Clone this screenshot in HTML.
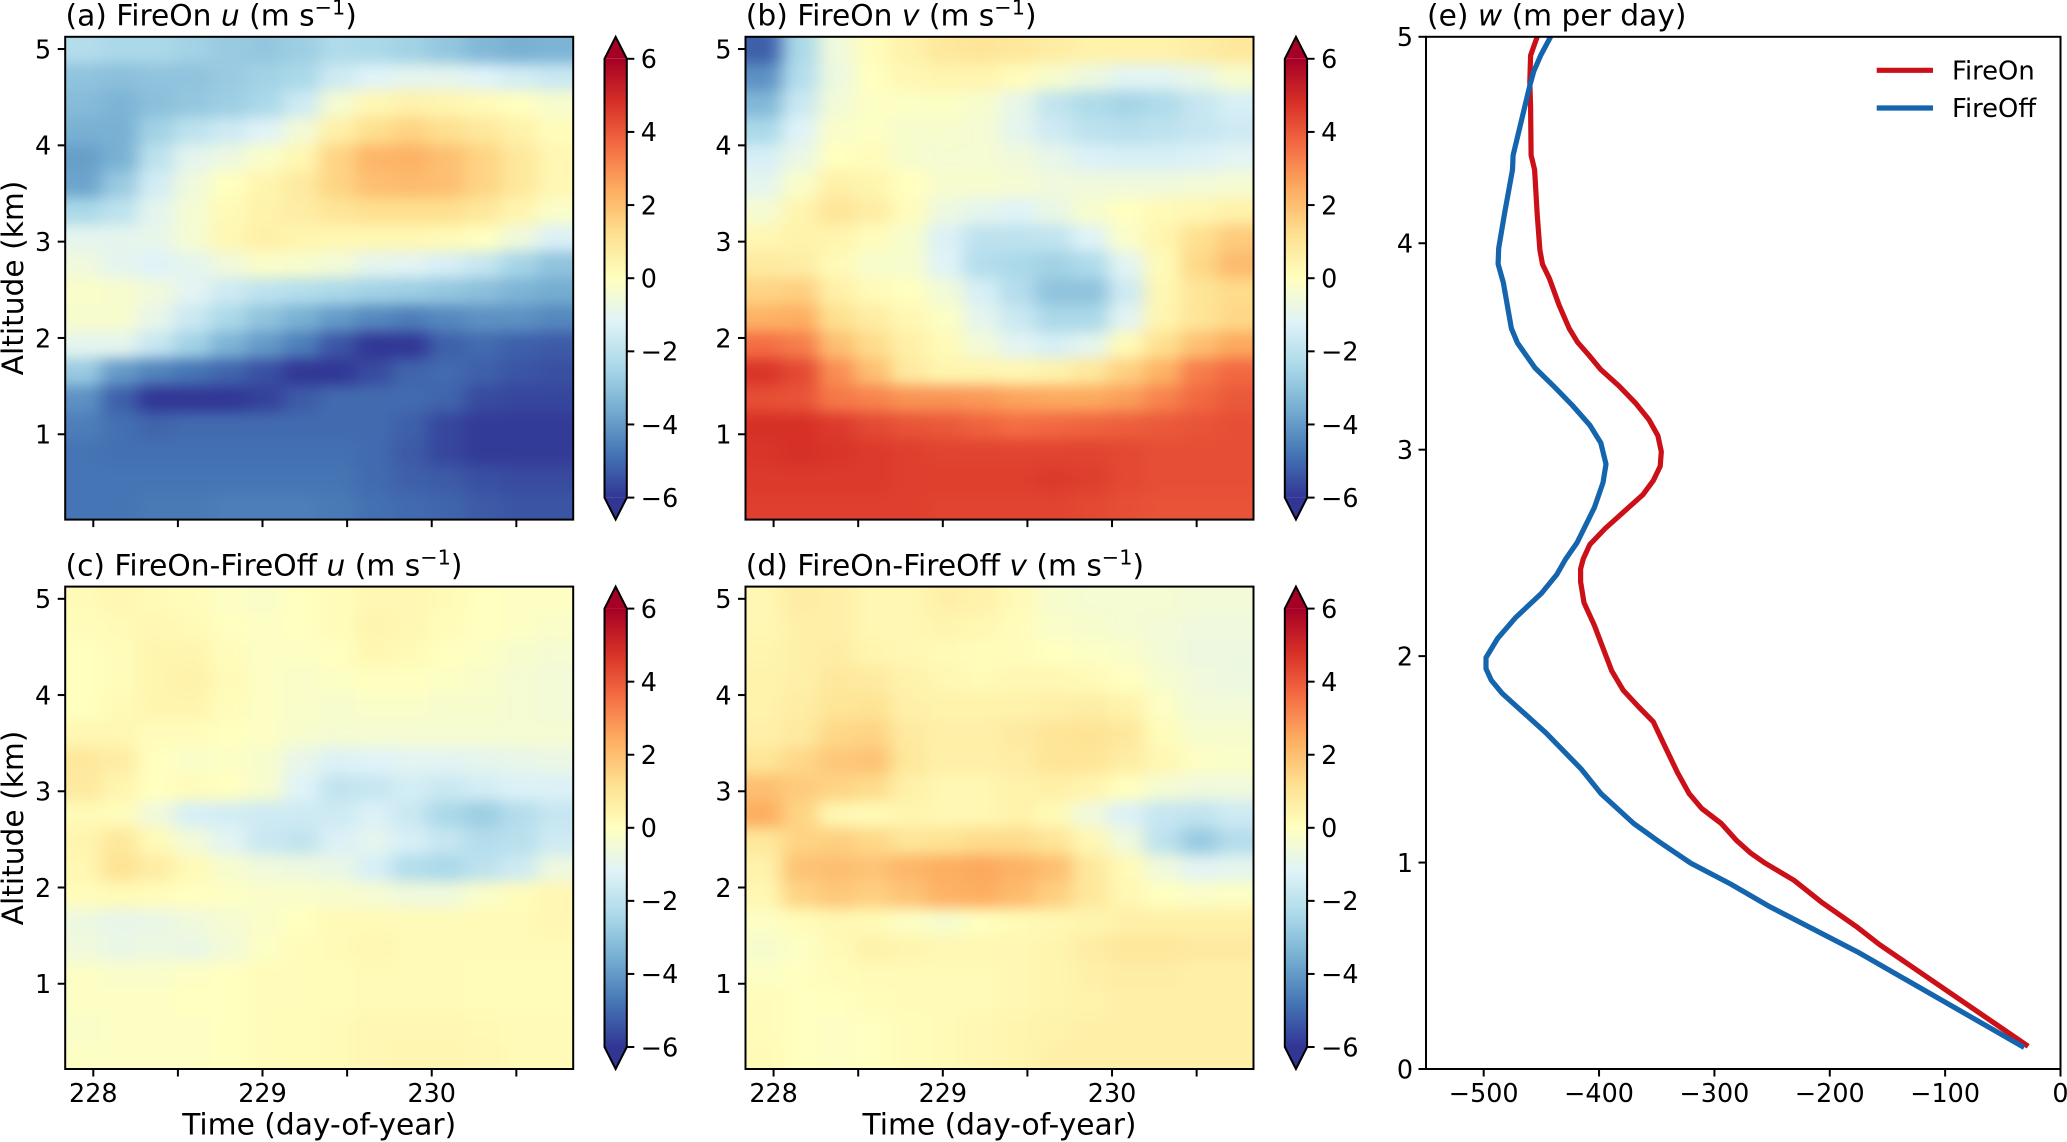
<!DOCTYPE html>
<html lang="en">
<head>
<meta charset="utf-8">
<title>FireOn and FireOff wind and subsidence profiles</title>
<style>
html,body{margin:0;padding:0;background:#fff;width:2067px;height:1142px;overflow:hidden}
svg{display:block;font-family:"DejaVu Sans","Liberation Sans",sans-serif;fill:#000}
.lbl{font-size:29.7px}
.tick{font-size:25.4px}
.legend-text{font-size:25.8px}
</style>
</head>
<body>
<svg id="figure" xmlns="http://www.w3.org/2000/svg" width="2067" height="1142" viewBox="0 0 2067 1142">
<defs>
<filter id="smooth" filterUnits="userSpaceOnUse" x="-100" y="-100" width="2300" height="1400" color-interpolation-filters="sRGB"><feGaussianBlur stdDeviation="9 7"/></filter>
<clipPath id="clip-a"><rect x="65.2" y="36.8" width="508" height="482.8"/></clipPath>
<clipPath id="clip-b"><rect x="745.5" y="36.8" width="508" height="482.8"/></clipPath>
<clipPath id="clip-c"><rect x="65.2" y="586.6" width="508" height="482.4"/></clipPath>
<clipPath id="clip-d"><rect x="745.5" y="586.6" width="508" height="482.4"/></clipPath>
<clipPath id="clip-e"><rect x="1426" y="36.8" width="634.5" height="1032.2"/></clipPath>
<linearGradient id="cbar-gradient" x1="0" y1="1" x2="0" y2="0"></linearGradient>
</defs>
<g id="layer-heat"></g>
<g id="layer-cbar"></g>
<g id="layer-axes"></g>

<text class="lbl" x="65.5" y="25.7">(a) FireOn <tspan font-style="italic">u</tspan> (m s<tspan font-size="20.8" dy="-11">−1</tspan><tspan dy="11">)</tspan></text>
<text class="lbl" x="745.8" y="25.7">(b) FireOn <tspan font-style="italic">v</tspan> (m s<tspan font-size="20.8" dy="-11">−1</tspan><tspan dy="11">)</tspan></text>
<text class="lbl" x="65.5" y="575.7">(c) FireOn-FireOff <tspan font-style="italic">u</tspan> (m s<tspan font-size="20.8" dy="-11">−1</tspan><tspan dy="11">)</tspan></text>
<text class="lbl" x="745.8" y="575.7">(d) FireOn-FireOff <tspan font-style="italic">v</tspan> (m s<tspan font-size="20.8" dy="-11">−1</tspan><tspan dy="11">)</tspan></text>
<text class="lbl" x="1427" y="25.7">(e) <tspan font-style="italic">w</tspan> (m per day)</text>

<text class="lbl" text-anchor="middle" transform="translate(23,278) rotate(-90)">Altitude (km)</text>
<text class="lbl" text-anchor="middle" transform="translate(23,828) rotate(-90)">Altitude (km)</text>
<text class="lbl" text-anchor="middle" x="319.2" y="1134.5">Time (day-of-year)</text>
<text class="lbl" text-anchor="middle" x="999.5" y="1134.5">Time (day-of-year)</text>

<g id="legend">
<line x1="1876.7" y1="70.3" x2="1933" y2="70.3" stroke="#cb1018" stroke-width="5.2"/>
<text class="legend-text" x="1952" y="79.5">FireOn</text>
<line x1="1876.7" y1="108" x2="1933" y2="108" stroke="#1465ad" stroke-width="5.2"/>
<text class="legend-text" x="1952" y="117">FireOff</text>
</g>
</svg>

<script>
const timeTicks = [228, 228.5, 229, 229.5, 230, 230.5];
const timeTickLabels = ["228", "", "229", "", "230", ""];
const altitudeTicks = [1, 2, 3, 4, 5];
const colorbarTicks = [-6, -4, -2, 0, 2, 4, 6];
const wTicks = [-500, -400, -300, -200, -100, 0];
const wAltitudeTicks = [0, 1, 2, 3, 4, 5];

const uFireOn = [
[-2.2,-2.4,-2.4,-2.6,-2.8,-2.9,-2.7,-2.3,-2.4,-2.6,-2.9,-3.3,-3.5,-3.4],
[-3,-3.1,-3,-3,-2.8,-2.6,-2.4,-1.6,-1.2,-1,-1,-1.2,-1.5,-1.7],
[-3.2,-3.4,-3.1,-2.9,-2.7,-2.4,-1.6,-0.4,0.3,0.5,0.4,0.2,0,-0.3],
[-3.5,-3.5,-2.6,-2,-1.6,-1.2,-0.5,0.6,1.2,1.5,1.2,0.9,0.5,0.1],
[-3.9,-3.5,-2,-1,-0.7,-0.2,0.3,1.5,2.2,2.3,2,1.5,0.9,0.3],
[-3.8,-2.8,-1.5,-0.6,0,0.4,0.8,1.5,2,2.1,2,1.5,0.9,0.3],
[-2.4,-2,-1,-0.4,0.2,0.5,0.7,1,1.2,1.2,1.2,0.9,0.4,-0.2],
[-1,-1,-0.9,-0.4,0.3,0.6,0.4,0.3,0.3,0.3,0.2,0,-0.6,-1.3],
[-0.6,-1,-1.2,-1,-0.6,-0.2,-0.3,-0.5,-1,-1.1,-1.4,-1.8,-2.5,-3],
[-0.2,-0.3,-0.6,-1.1,-1.6,-2,-2.2,-2.4,-2.6,-2.7,-2.9,-3.1,-3.4,-3.6],
[-0.3,-0.3,-0.9,-1.7,-2.4,-3,-3.5,-4,-4.4,-4.6,-4.4,-4.2,-4.2,-4.4],
[-1,-1,-1.8,-2.6,-3.4,-4,-4.6,-5.4,-6,-6,-5.2,-5,-5.2,-5.3],
[-2.8,-4,-4.5,-4.8,-5.1,-5.5,-6,-6,-5.6,-5.1,-5,-5.2,-5.4,-5.5],
[-4.2,-5.2,-6,-6,-6,-5.8,-5.3,-5,-5,-5,-5.1,-5.6,-5.7,-5.7],
[-4.6,-4.9,-5.1,-5,-5,-5,-5,-5,-5,-5.2,-5.7,-5.9,-5.9,-5.9],
[-4.8,-4.9,-4.9,-4.9,-4.9,-4.9,-4.9,-4.9,-5,-5.3,-5.7,-5.9,-5.9,-5.9],
[-4.8,-4.8,-4.8,-4.8,-4.8,-4.8,-4.8,-4.8,-5,-5.2,-5.3,-5.5,-5.6,-5.6],
[-4.8,-4.8,-4.7,-4.7,-4.6,-4.6,-4.6,-4.7,-4.9,-5,-5.1,-5.3,-5.4,-5.4]
];

const vFireOn = [
[-5.2,-2.4,-0.6,0.1,0.5,0.9,1,0.9,0.7,0.5,0.5,0.5,0.7,0.9],
[-4.2,-2.2,-0.7,0,0.3,0.4,0.4,0.1,-0.3,-0.7,-1.1,-1.1,-0.8,-0.3],
[-3.3,-1.7,-0.5,-0.1,-0.1,-0.1,-0.3,-0.9,-1.9,-2.3,-2.5,-2.3,-1.8,-1.4],
[-2.4,-1.2,-0.2,-0.1,-0.3,-0.3,-0.4,-1,-1.6,-2,-2.1,-2,-1.8,-1.6],
[-1.4,-0.8,0,0.1,-0.3,-0.4,-0.4,-0.6,-0.9,-1.3,-1.4,-1.4,-1.3,-1.1],
[-1,-0.2,0.6,0.4,0,-0.3,-0.3,-0.4,-0.6,-0.6,-0.6,-0.6,-0.5,-0.4],
[-0.4,0.4,1,0.7,0.1,-0.7,-1,-1.2,-0.8,-0.3,0,0.2,0.3,0.5],
[0.3,0.5,0.4,0.1,-0.3,-1.3,-2,-2,-1.9,-1.2,-0.2,0.4,1.2,1.7],
[0.8,0.7,0.2,-0.3,-0.3,-1.2,-2.2,-2.4,-2.6,-2.3,-1.1,0.2,1.4,2.1],
[1.5,1.6,0.6,0.2,0,-0.5,-1.4,-2.2,-3,-3,-1.6,0.3,1,1.3],
[2.3,2.4,1.2,0.7,0.3,-0.1,-1,-1.7,-2.4,-2.4,-1.1,0.4,1,1.4],
[3.6,3.3,2,1.3,0.6,0.2,-0.5,-1.1,-1.4,-1,0.2,1.2,2,2.5],
[4.7,4.3,3,2,0.8,0.4,0.4,0.3,0.5,0.9,1.6,2.3,3.3,3.7],
[4.2,4.1,3.4,3.2,2.9,2.9,2.8,2.6,2.5,2.5,2.7,3.2,3.7,4],
[4.8,4.8,4.6,4.3,4.1,4,3.8,3.6,3.7,3.8,3.9,4,4.1,4.2],
[4.7,4.8,4.7,4.6,4.5,4.4,4.4,4.4,4.4,4.4,4.3,4.2,4.2,4.2],
[4.6,4.6,4.6,4.6,4.5,4.5,4.5,4.5,4.6,4.5,4.3,4.2,4.2,4.2],
[4.5,4.5,4.5,4.5,4.5,4.4,4.4,4.4,4.4,4.3,4.2,4.1,4.1,4.1]
];

const uDifference = [
[0.2,0.3,0.2,0.1,-0.1,-0.2,0,0.1,0.3,0.3,0.2,0,-0.1,-0.1],
[0.1,0.2,0.3,0.2,0,-0.1,0,0.1,0.4,0.3,0.1,0,-0.1,-0.2],
[0,0.1,0.4,0.4,0.1,-0.1,-0.1,0,0.3,0.2,0,-0.1,-0.3,-0.4],
[0,0.1,0.4,0.5,0.2,-0.1,-0.2,-0.1,0,0,-0.1,-0.2,-0.4,-0.5],
[0,0.2,0.4,0.4,0.1,-0.1,-0.2,-0.3,-0.2,-0.2,-0.3,-0.3,-0.4,-0.5],
[0.3,0.3,0.1,0.1,0,-0.1,-0.3,-0.4,-0.4,-0.4,-0.4,-0.4,-0.4,-0.4],
[0.9,0.7,0,-0.2,-0.1,-0.3,-0.9,-1.3,-1.2,-1.1,-1.1,-1,-0.9,-0.8],
[0.8,0.4,0,0.1,0,-0.3,-1.2,-1.9,-1.8,-1.5,-1.7,-1.5,-1.3,-1.3],
[0.2,0.1,-0.6,-1.4,-1.5,-1.6,-1.6,-1.6,-1.3,-1.7,-2.4,-2.7,-2.2,-1.8],
[0.4,0.9,0.2,-0.5,-1.1,-1.7,-1.9,-1.3,-1,-1.4,-1.8,-2.2,-2.1,-1.6],
[0.3,1.1,0.7,0.2,-0.3,-0.6,-0.7,-0.8,-1.4,-2.2,-2.4,-2,-1.6,-0.7],
[0.1,0.2,0.1,0,-0.1,-0.2,-0.2,-0.3,-0.4,-0.6,-0.6,-0.2,0.1,0.3],
[-0.7,-0.9,-0.8,-0.6,-0.4,-0.2,0,0.2,0.2,0.2,0.2,0.2,0.2,0.3],
[-0.6,-0.8,-0.7,-0.8,-0.5,-0.1,0.1,0.2,0.3,0.2,0.2,0.2,0.2,0.2],
[-0.1,-0.2,-0.2,-0.1,0,0.1,0.1,0.15,0.2,0.2,0.2,0.15,0.15,0.15],
[-0.1,-0.1,-0.1,0,0,0.1,0.1,0.15,0.2,0.2,0.2,0.15,0.15,0.15],
[-0.2,-0.1,-0.1,-0.1,0,0.1,0.15,0.2,0.3,0.3,0.3,0.25,0.2,0.2],
[-0.1,-0.1,-0.1,-0.1,0,0.1,0.15,0.2,0.3,0.35,0.35,0.3,0.2,0.2]
];

const vDifference = [
[0.3,0.7,0.6,0.3,0.3,0.6,0.5,0.2,-0.3,-0.4,-0.4,-0.4,-0.5,-0.5],
[0.3,0.6,0.6,0.3,0.3,0.4,0.3,0.1,-0.2,-0.3,-0.4,-0.5,-0.6,-0.6],
[0.4,0.6,0.7,0.4,0.3,0.2,0.1,0.1,0,-0.1,-0.2,-0.5,-0.7,-0.7],
[0.5,0.6,0.9,0.8,0.5,0.3,0.2,0.3,0.3,0.2,0,-0.3,-0.6,-0.7],
[0.5,0.7,1,1.1,0.6,0.5,0.5,0.5,0.6,0.7,0.5,-0.1,-0.5,-0.5],
[0.6,0.8,1.4,1.5,0.8,0.6,0.6,0.8,1,1.1,0.9,0.1,-0.3,-0.3],
[1,1.4,1.8,1.9,0.9,0.6,0.6,0.7,1,1,0.7,0.3,-0.1,-0.2],
[2,1.7,1.5,1.3,0.6,0.3,0.3,0.5,0.6,0.4,0,-0.4,-0.6,-0.6],
[2.4,1.5,0.3,0.2,0.4,0.3,0.3,0.5,0.2,-0.6,-1.3,-1.8,-1.9,-1.6],
[0.9,1.5,1.6,1.4,1,1.1,1.3,1.3,1,0.3,-0.6,-2,-2.8,-2.2],
[0.5,1.9,2,1.9,2.2,2.4,2.5,2.3,2,0.9,0.2,-0.6,-1.1,-1],
[0.3,1.5,1.8,1.6,1.9,2.3,2.4,2.1,1.6,0.9,0.3,0,-0.2,-0.1],
[-0.1,0.1,0.3,0.2,-0.1,-0.3,0,0.2,0.3,0.4,0.6,0.6,0.6,0.6],
[-0.3,-0.1,0.2,0.5,0.4,0.3,0.3,0.3,0.4,0.7,0.9,0.9,0.8,0.8],
[-0.1,0,0.1,0.2,0.2,0.2,0.2,0.3,0.4,0.6,0.7,0.7,0.6,0.6],
[0.1,0,0,0.1,0.2,0.2,0.2,0.3,0.4,0.5,0.6,0.6,0.6,0.6],
[0.1,0,-0.1,0,0.1,0.2,0.3,0.4,0.5,0.6,0.6,0.6,0.6,0.6],
[0.2,0,-0.1,0,0.1,0.2,0.3,0.4,0.6,0.6,0.6,0.6,0.6,0.6]
];

const fireOnAltitude = [5,4.91,4.78,4.66,4.426,4.356,4.14,3.967,3.898,3.829,3.7,3.587,3.52,3.457,3.388,3.31,3.223,3.145,3.067,2.99,2.92,2.85,2.782,2.704,2.618,2.54,2.47,2.423,2.36,2.259,2.149,2.039,1.929,1.834,1.756,1.682,1.564,1.436,1.335,1.262,1.189,1.106,1.048,0.997,0.914,0.805,0.686,0.603,0.11];
const fireOnW = [-453.6,-459.3,-460,-459.3,-458.9,-455.9,-453.6,-451.3,-449,-443,-434.6,-425.9,-418.6,-408.7,-398.5,-383,-368,-356.7,-349,-346,-347,-353,-362,-377.6,-394.7,-408,-413.7,-416,-416,-413,-404,-396.6,-389,-379,-366,-353,-343,-332,-322,-311,-294,-280.6,-269,-256,-231,-206.5,-176,-157,-28];
const fireOffAltitude = [5,4.91,4.832,4.763,4.426,4.356,4.14,3.976,3.9,3.81,3.587,3.517,3.396,3.3,3.214,3.119,3.033,2.93,2.84,2.72,2.55,2.47,2.396,2.304,2.185,2.085,1.993,1.939,1.884,1.82,1.628,1.454,1.335,1.189,1.097,0.997,0.896,0.786,0.567,0.104];
const fireOffW = [-442,-450.6,-456.6,-460,-474.5,-475,-482,-487,-487.5,-483,-476,-470.7,-455.5,-438,-423,-408,-398.5,-394,-396.6,-404,-419,-429,-436.5,-450,-472.6,-488,-498,-498,-493.5,-484,-446,-415.6,-398.5,-370,-347,-320.5,-286,-252,-176,-31.5];

const colormapStops = ["#313695","#4575b4","#74add1","#abd9e9","#e0f3f8","#ffffbf","#fee090","#fdae61","#f46d43","#d73027","#a50026"];

const SVGNS = "http://www.w3.org/2000/svg";
const layerHeat = document.getElementById("layer-heat");
const layerCbar = document.getElementById("layer-cbar");
const layerAxes = document.getElementById("layer-axes");

function make(tag, attrs, parent) {
  const el = document.createElementNS(SVGNS, tag);
  for (const k in attrs) el.setAttribute(k, attrs[k]);
  parent.appendChild(el);
  return el;
}
function hexToRgb(h) {
  return [parseInt(h.slice(1, 3), 16), parseInt(h.slice(3, 5), 16), parseInt(h.slice(5, 7), 16)];
}
function colorOf(v) {
  const f = Math.max(0, Math.min(1, (v + 6) / 12)) * (colormapStops.length - 1);
  const i = Math.min(colormapStops.length - 2, Math.floor(f));
  const a = hexToRgb(colormapStops[i]);
  const b = hexToRgb(colormapStops[i + 1]);
  const t = f - i;
  return "rgb(" + [0, 1, 2].map(function (k) { return Math.round(a[k] + (b[k] - a[k]) * t); }).join(",") + ")";
}
function fmt(v) {
  return String(v).replace("-", "\u2212");
}

const TIME_MIN = 227.834, TIME_MAX = 230.836, ALT_MIN = 0.114, ALT_MAX = 5.127;
const FRAME = "#000";

colormapStops.forEach(function (c, i) {
  make("stop", { offset: i / (colormapStops.length - 1), "stop-color": c }, document.getElementById("cbar-gradient"));
});

function drawHeatPanel(id, left, top, width, height, values, showTimeLabels) {
  const xTime = function (t) { return left + (t - TIME_MIN) / (TIME_MAX - TIME_MIN) * width; };
  const yAlt = function (z) { return top + (ALT_MAX - z) / (ALT_MAX - ALT_MIN) * height; };
  const clipGroup = make("g", { "clip-path": "url(#clip-" + id + ")" }, layerHeat);
  
  
  const blurGroup = make("g", { filter: "url(#smooth)" }, clipGroup);
  const nRows = values.length, nCols = values[0].length;
  const dT = (TIME_MAX - TIME_MIN) / nCols, dZ = (ALT_MAX - ALT_MIN) / nRows;
  values.forEach(function (row, r) {
    row.forEach(function (v, c) {
      let x0 = xTime(TIME_MIN + c * dT), x1 = xTime(TIME_MIN + (c + 1) * dT);
      let y0 = yAlt(ALT_MAX - r * dZ), y1 = yAlt(ALT_MAX - (r + 1) * dZ);
      if (c === 0) x0 -= 40;
      if (c === nCols - 1) x1 += 40;
      if (r === 0) y0 -= 40;
      if (r === nRows - 1) y1 += 40;
      const cell = make("rect", { x: x0, y: y0, width: x1 - x0 + 0.5, height: y1 - y0 + 0.5, fill: colorOf(v) }, blurGroup);
      
      
    });
  });
  const frame = make("rect", { x: left, y: top, width: width, height: height, fill: "none", stroke: FRAME, "stroke-width": 2 }, layerAxes);
  
  

  altitudeTicks.forEach(function (z) {
    const y = yAlt(z);
    const tk = make("line", { x1: left - 7.5, x2: left, y1: y, y2: y, stroke: FRAME, "stroke-width": 2 }, layerAxes);
    
    
    const lb = make("text", { class: "tick", x: left - 14, y: y + 9.3, "text-anchor": "end" }, layerAxes);
    lb.textContent = String(z);
    
    
  });
  timeTicks.forEach(function (t, i) {
    const x = xTime(t);
    const tk = make("line", { x1: x, x2: x, y1: top + height, y2: top + height + 7.5, stroke: FRAME, "stroke-width": 2 }, layerAxes);
    
    
    if (showTimeLabels && timeTickLabels[i]) {
      const lb = make("text", { class: "tick", x: x, y: top + height + 32.8, "text-anchor": "middle" }, layerAxes);
      lb.textContent = timeTickLabels[i];
      
      
    }
  });

  const cbLeft = left + 539.3, cbRight = cbLeft + 22.3, cbMid = (cbLeft + cbRight) / 2;
  const ext = 22, cbTop = top + ext, cbBottom = top + height - ext;
  const cbY = function (v) { return cbBottom - (v + 6) / 12 * (cbBottom - cbTop); };
  const body = make("rect", { x: cbLeft, y: cbTop, width: cbRight - cbLeft, height: cbBottom - cbTop, fill: "url(#cbar-gradient)" }, layerCbar);
  
  
  const tipUp = make("polygon", { points: cbLeft + "," + cbTop + " " + cbMid + "," + top + " " + cbRight + "," + cbTop, fill: colormapStops[10] }, layerCbar);
  
  
  const tipDown = make("polygon", { points: cbLeft + "," + cbBottom + " " + cbMid + "," + (top + height) + " " + cbRight + "," + cbBottom, fill: colormapStops[0] }, layerCbar);
  
  
  const outline = make("polygon", { points: [cbLeft + "," + cbTop, cbMid + "," + top, cbRight + "," + cbTop, cbRight + "," + cbBottom, cbMid + "," + (top + height), cbLeft + "," + cbBottom].join(" "), fill: "none", stroke: FRAME, "stroke-width": 2 }, layerCbar);
  
  
  colorbarTicks.forEach(function (v) {
    const y = cbY(v);
    const tk = make("line", { x1: cbRight, x2: cbRight + 7.5, y1: y, y2: y, stroke: FRAME, "stroke-width": 2 }, layerCbar);
    
    
    const lb = make("text", { class: "tick", x: cbRight + 14, y: y + 9.3 }, layerCbar);
    lb.textContent = fmt(v);
    
    
  });
}

drawHeatPanel("a", 65.2, 36.8, 508, 482.8, uFireOn, false);
drawHeatPanel("b", 745.5, 36.8, 508, 482.8, vFireOn, false);
drawHeatPanel("c", 65.2, 586.6, 508, 482.4, uDifference, true);
drawHeatPanel("d", 745.5, 586.6, 508, 482.4, vDifference, true);

const E_LEFT = 1426, E_RIGHT = 2060.5, E_TOP = 36.8, E_BOTTOM = 1069;
function xW(w) { return E_LEFT + (w + 550) / 550 * (E_RIGHT - E_LEFT); }
function yW(z) { return E_BOTTOM - z / 5 * (E_BOTTOM - E_TOP); }

const lineClip = make("g", { "clip-path": "url(#clip-e)" }, layerAxes);


function drawProfile(name, color, altitudes, values) {
  const pts = values.map(function (w, i) { return xW(w).toFixed(1) + "," + yW(altitudes[i]).toFixed(1); }).join(" ");
  const line = make("polyline", { points: pts, fill: "none", stroke: color, "stroke-width": 5.2, "stroke-linejoin": "round" }, lineClip);
  
  
}
drawProfile("fireon-line", "#cb1018", fireOnAltitude, fireOnW);
drawProfile("fireoff-line", "#1465ad", fireOffAltitude, fireOffW);

const eFrame = make("rect", { x: E_LEFT, y: E_TOP, width: E_RIGHT - E_LEFT, height: E_BOTTOM - E_TOP, fill: "none", stroke: FRAME, "stroke-width": 2 }, layerAxes);


wAltitudeTicks.forEach(function (z) {
  const y = yW(z);
  const tk = make("line", { x1: E_LEFT - 7.5, x2: E_LEFT, y1: y, y2: y, stroke: FRAME, "stroke-width": 2 }, layerAxes);
  
  
  const lb = make("text", { class: "tick", x: E_LEFT - 13, y: y + 9.3, "text-anchor": "end" }, layerAxes);
  lb.textContent = String(z);
  
  
});
wTicks.forEach(function (w) {
  const x = xW(w);
  const tk = make("line", { x1: x, x2: x, y1: E_BOTTOM, y2: E_BOTTOM + 7.5, stroke: FRAME, "stroke-width": 2 }, layerAxes);
  
  
  const lb = make("text", { class: "tick", x: x, y: E_BOTTOM + 32.8, "text-anchor": "middle" }, layerAxes);
  lb.textContent = fmt(w);
  
  
});
</script>
</body>
</html>
